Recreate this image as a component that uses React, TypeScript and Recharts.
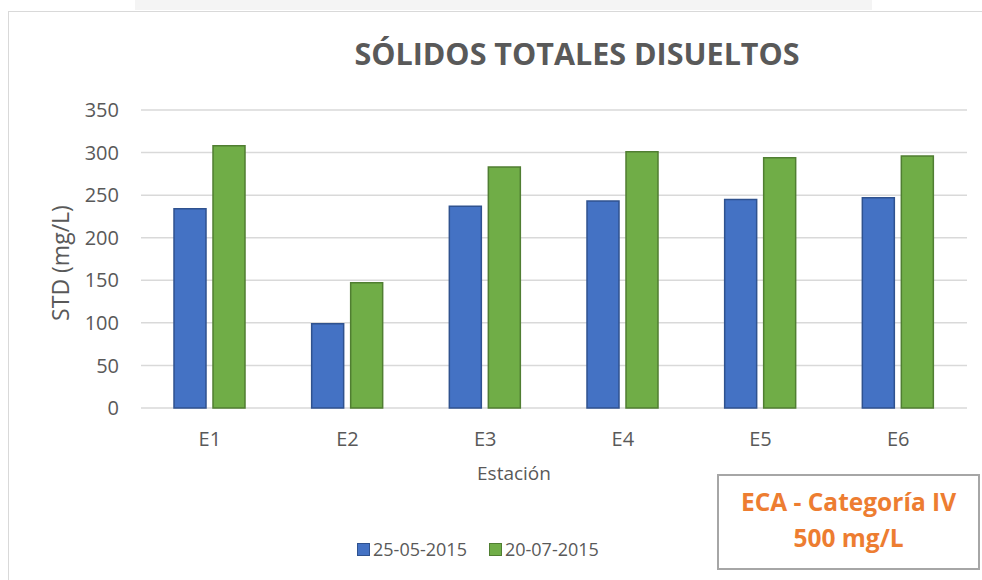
import React from 'react';
import { BarChart, Bar, XAxis, YAxis, CartesianGrid, Legend } from 'recharts';

// Estaciones de muestreo
const stations = ['E1', 'E2', 'E3', 'E4', 'E5', 'E6'];
// STD (mg/L) por fecha de muestreo
const may2015 = [234, 99, 237, 243, 245, 247];
const jul2015 = [308, 147, 283, 301, 294, 296];
const yTicks = [0, 50, 100, 150, 200, 250, 300, 350];

const seriesNames = ['25-05-2015', '20-07-2015'];
const fills = ['#4472c4', '#70ad47'];
const strokes = ['#2f528f', '#507e32'];

const data = stations.map((s, i) => ({ station: s, may: may2015[i], jul: jul2015[i] }));

const FONT = '"Open Sans", Calibri, sans-serif';
const TEXT = '#595959';

const renderLegend = () => (
  <div style={{ display: 'flex', alignItems: 'center', fontFamily: FONT, fontSize: 18, color: TEXT, whiteSpace: 'nowrap' }}>
    {seriesNames.map((name, i) => (
      <div key={name} style={{ display: 'flex', alignItems: 'center', marginRight: i === 0 ? 22 : 0 }}>
        <span style={{ display: 'inline-block', width: 11, height: 11, background: fills[i], border: `1px solid ${strokes[i]}`, marginRight: 3 }} />
        <span>{name}</span>
      </div>
    ))}
  </div>
);

export default function App() {
  return (
    <div style={{ position: 'relative', width: 982, height: 580, background: '#fff', overflow: 'hidden' }}>
      <style>{'body{margin:0}'}</style>
      <div style={{ position: 'absolute', left: 135, top: 0, width: 737, height: 10, background: '#f4f4f4' }} />
      <div style={{ position: 'absolute', left: 8, top: 11, right: 0, bottom: 0, borderLeft: '1.5px solid #d9d9d9', borderTop: '1.5px solid #d9d9d9' }} />
      <div style={{ position: 'absolute', left: 0, width: 1154, top: 35, textAlign: 'center', fontFamily: FONT, fontWeight: 700, fontSize: 30.5, color: TEXT, lineHeight: '36px' }}>
        SÓLIDOS TOTALES DISUELTOS
      </div>
      <BarChart
        width={982}
        height={580}
        data={data}
        margin={{ top: 110, right: 15, left: 0, bottom: 142 }}
        barSize={32}
        barGap={7}
        style={{ position: 'absolute', left: 0, top: 0 }}
      >
        <CartesianGrid vertical={false} stroke="#d9d9d9" strokeWidth={1.5} />
        <XAxis
          dataKey="station"
          height={30}
          axisLine={false}
          tickLine={false}
          tickSize={0}
          tickMargin={24}
          tick={{ fill: TEXT, fontSize: 20, fontFamily: FONT }}
          label={{ value: 'Estación', position: 'bottom', offset: 29, dx: -40, fill: TEXT, fontSize: 19, fontFamily: FONT }}
        />
        <YAxis
          width={141}
          domain={[0, 350]}
          ticks={yTicks}
          axisLine={false}
          tickLine={false}
          tickSize={0}
          tickMargin={22}
          tick={{ fill: TEXT, fontSize: 20, fontFamily: FONT }}
          label={{ value: 'STD (mg/L)', angle: -90, position: 'center', dx: -10, dy: 4, fill: TEXT, fontSize: 23, fontFamily: FONT }}
        />
        <Legend
          layout="horizontal"
          verticalAlign="middle"
          align="center"
          content={renderLegend}
          wrapperStyle={{ left: 357, top: 537, width: 'auto' }}
        />
        <Bar dataKey="may" name={seriesNames[0]} fill={fills[0]} stroke={strokes[0]} strokeWidth={1.5} isAnimationActive={false} />
        <Bar dataKey="jul" name={seriesNames[1]} fill={fills[1]} stroke={strokes[1]} strokeWidth={1.5} isAnimationActive={false} />
      </BarChart>
      <div style={{ position: 'absolute', left: 717, top: 474, width: 263, height: 96, border: '2px solid #a6a6a6', boxSizing: 'border-box', fontFamily: FONT, fontWeight: 700, fontSize: 24.5, color: '#ed7d31', textAlign: 'center', lineHeight: '36px', paddingTop: 8 }}>
        <div>ECA - Categoría IV</div>
        <div>500 mg/L</div>
      </div>
    </div>
  );
}
